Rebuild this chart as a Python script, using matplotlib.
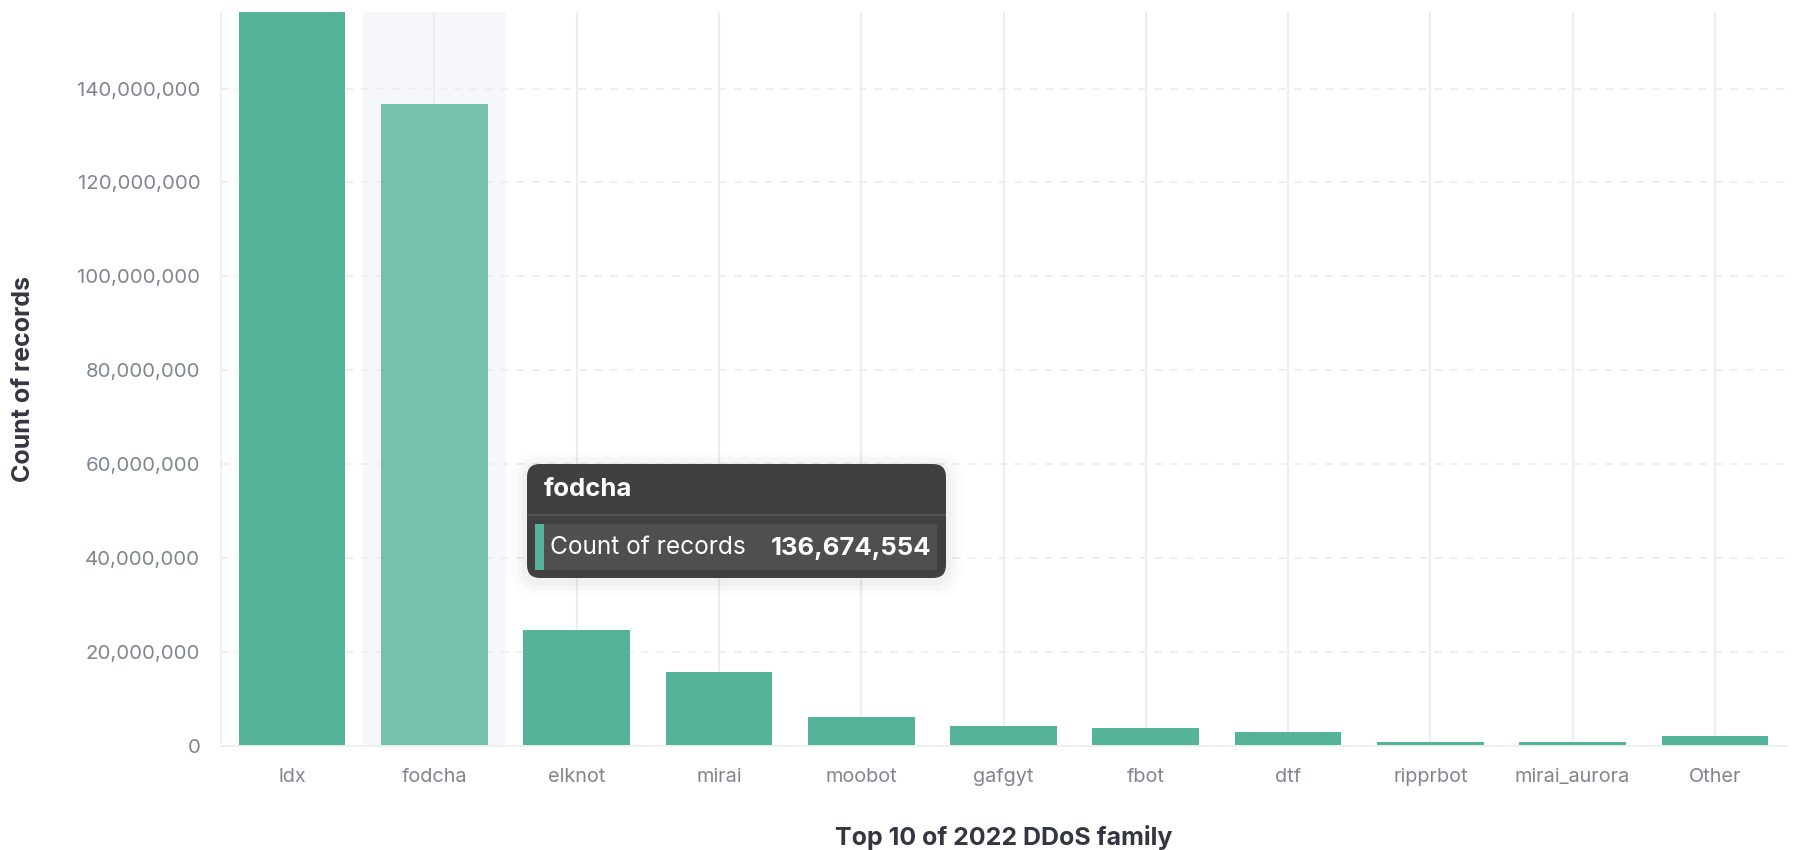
import matplotlib.pyplot as plt
from matplotlib.patches import FancyBboxPatch, Rectangle
from matplotlib.ticker import FuncFormatter, MultipleLocator
from matplotlib.transforms import IdentityTransform

families = ['ldx', 'fodcha', 'elknot', 'mirai', 'moobot', 'gafgyt',
            'fbot', 'dtf', 'ripprbot', 'mirai_aurora', 'Other']
counts = [156_300_000, 136_674_554, 24_700_000, 15_800_000, 6_100_000,
          4_350_000, 3_830_000, 3_070_000, 940_000, 800_000, 2_070_000]
hovered = 1  # fodcha

plt.rcParams['font.family'] = ['Inter', 'DejaVu Sans']

W, H = 1794, 850
fig = plt.figure(figsize=(W / 100, H / 100), dpi=100)
ax = fig.add_axes([221 / W, 1 - 746 / H, 1565 / W, 734 / H])

x = range(len(families))
colors = ['#76C1AC' if i == hovered else '#54B399' for i in x]
ax.bar(x, counts, width=0.75, color=colors, zorder=2)
ax.axvspan(hovered - 0.5, hovered + 0.5, color='#F5F7FA', zorder=0, lw=0)

ax.set_xlim(-0.5, len(families) - 0.5)
ax.set_ylim(0, max(counts))
ax.set_xticks(list(x))
ax.set_xticklabels(families)
ax.yaxis.set_major_locator(MultipleLocator(20_000_000))
ax.yaxis.set_major_formatter(FuncFormatter(lambda v, p: f'{int(v):,}'))

ax.set_axisbelow(True)
ax.grid(axis='x', color='#ECEEF2', lw=1.6, ls='-')
ax.grid(axis='y', color='#ECEEF2', lw=1.4, ls=(0, (4, 4)))
for s in ['top', 'right']:
    ax.spines[s].set_visible(False)
for s in ['left', 'bottom']:
    ax.spines[s].set_color('#EEF0F3')
    ax.spines[s].set_linewidth(1.4)
ax.tick_params(axis='y', length=0, pad=15, labelsize=14.7, labelcolor='#80858F')
ax.tick_params(axis='x', length=0, pad=16, labelsize=14.3, labelcolor='#80858F')

ax.set_ylabel('Count of records', fontsize=18, fontweight='bold',
              color='#343741', labelpad=30)
ax.set_xlabel('Top 10 of 2022 DDoS family', fontsize=18, fontweight='bold',
              color='#343741', labelpad=28)

# tooltip, laid out in pixels from the top-left corner
def px(xp, yp):
    return xp, H - yp

tr = IdentityTransform()
x0, y0, x1, y1 = 527, 464, 946, 578
for k, a in [(16, 0.012), (10, 0.018), (5, 0.025)]:
    fig.patches.append(FancyBboxPatch(
        px(x0 - k, y1 + k + 3), x1 - x0 + 2 * k, y1 - y0 + 2 * k,
        boxstyle=f'round,pad=0,rounding_size={13 + k}', transform=tr,
        facecolor='black', edgecolor='none', alpha=a, zorder=5))
fig.patches.append(FancyBboxPatch(
    px(x0, y1), x1 - x0, y1 - y0,
    boxstyle='round,pad=0,rounding_size=13', transform=tr,
    facecolor='#404040', edgecolor='none', zorder=6))
fig.patches.append(Rectangle(px(x0, 516), x1 - x0, 2, transform=tr,
                             facecolor='#545454', edgecolor='none', zorder=7))
fig.patches.append(Rectangle(px(535, 570), 937 - 535, 46, transform=tr,
                             facecolor='#4F4F4F', edgecolor='none', zorder=7))
fig.patches.append(Rectangle(px(535, 570), 9, 46, transform=tr,
                             facecolor='#54B399', edgecolor='none', zorder=8))
fig.text(*px(544, 489), families[hovered], transform=tr, color='white',
         fontsize=18.5, fontweight='bold', va='center', ha='left', zorder=9)
fig.text(*px(550, 548), 'Count of records', transform=tr, color='white',
         fontsize=17.6, va='center', ha='left', zorder=9)
fig.text(*px(931, 548), f'{counts[hovered]:,}', transform=tr, color='white',
         fontsize=18.5, fontweight='bold', va='center', ha='right', zorder=9)

fig.savefig('out.png', dpi=100)
